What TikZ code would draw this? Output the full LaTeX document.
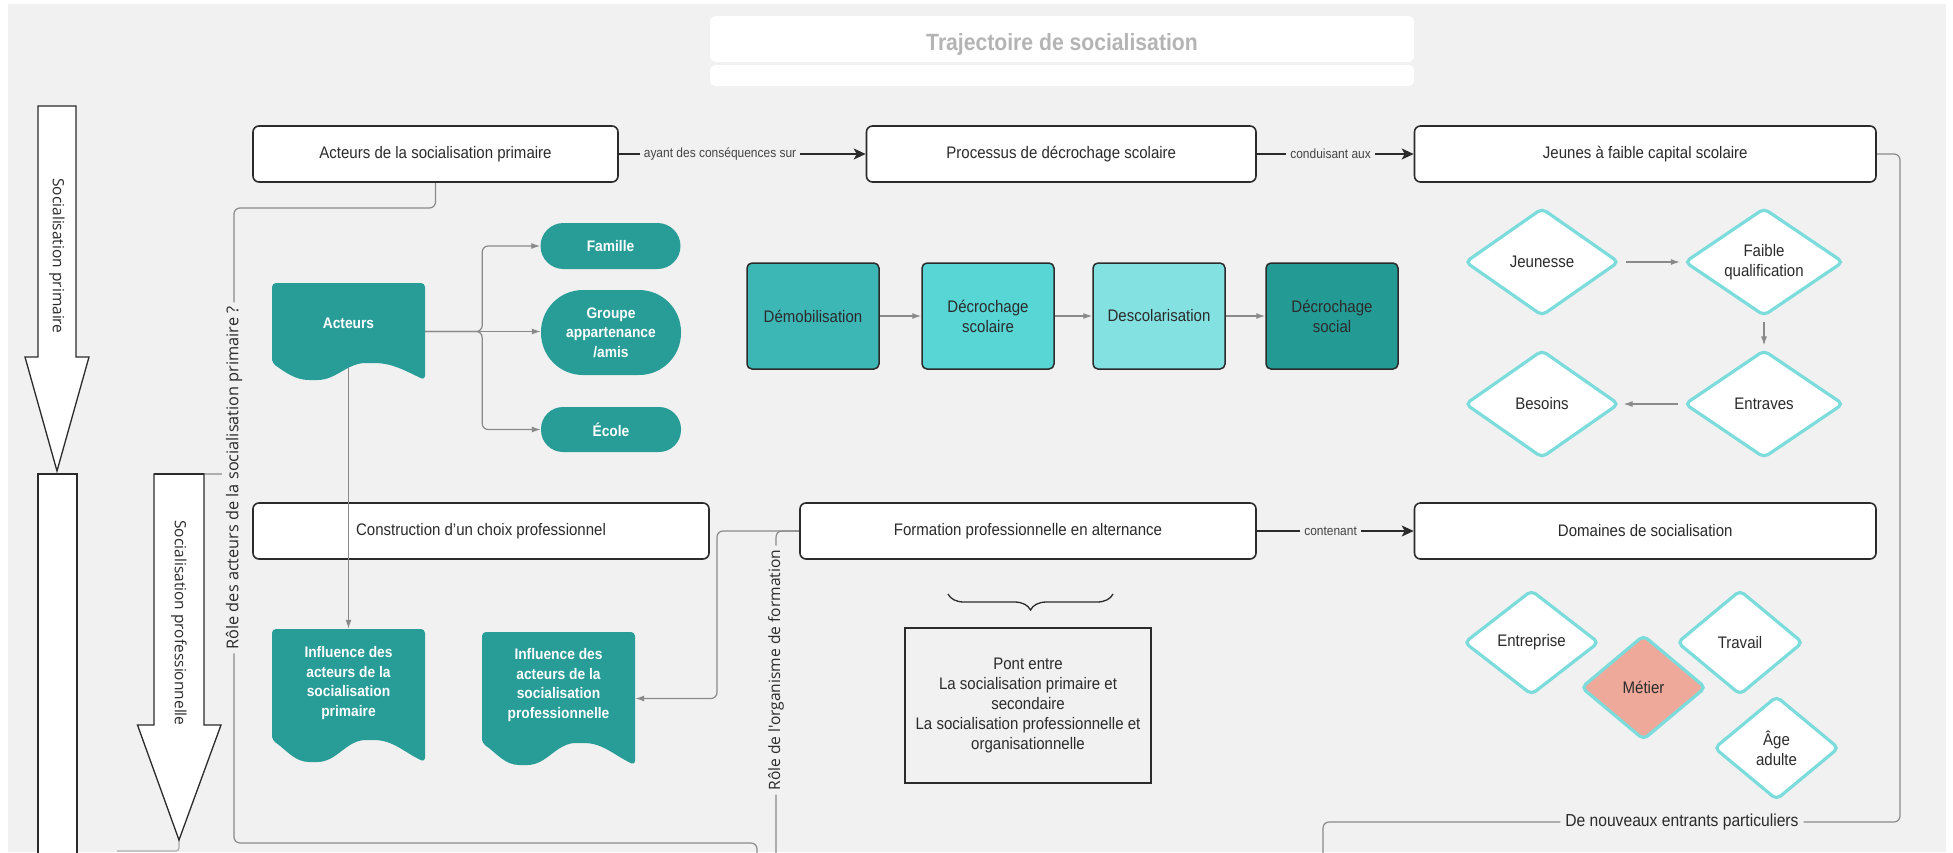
\documentclass[tikz,border=0pt]{standalone}
\usepackage{fontspec}
\setmainfont[FakeStretch=0.9]{Liberation Sans}
\newfontfamily\vfont{Open Sans}
\usetikzlibrary{arrows.meta,shapes.geometric,decorations.pathreplacing,backgrounds,calc}
\definecolor{bgc}{HTML}{F1F1F1}
\definecolor{tealA}{HTML}{289D98}
\definecolor{dk}{HTML}{2B2B2B}
\definecolor{gr}{HTML}{8A8A8A}
\definecolor{pA}{HTML}{3DB6B6}
\definecolor{pB}{HTML}{58D5D5}
\definecolor{pC}{HTML}{83E1E1}
\definecolor{pD}{HTML}{249A95}
\definecolor{cy}{HTML}{7CDCDC}
\definecolor{salm}{HTML}{EFA99A}
\definecolor{ttl}{HTML}{B4B4B4}
\definecolor{lblc}{HTML}{444444}
\newcommand\fbx{\fontsize{16.7pt}{20pt}\selectfont}
\newcommand\ftb{\fontsize{15.3pt}{19.4pt}\selectfont\bfseries}
\newcommand\flb{\fontsize{13.3pt}{16pt}\selectfont}
\newcommand\fvl{\vfont\fontsize{15.5pt}{18pt}\selectfont}
\newcommand\docfill[5]{%
  \pgfmathsetmacro\dxa{#1+0.64*(#3-#1)}%
  \pgfmathsetmacro\dxb{#1+0.27*(#3-#1)}%
  \pgfmathsetmacro\dyc{#4-#5}%
  \fill[tealA, rounded corners=4pt] (#1,\dyc) -- (#1,#2) -- (#3,#2) -- (#3,#4) to[out=155,in=0] (\dxa,\dyc) to[out=180,in=0] (\dxb,#4) to[out=180,in=-35] (#1,\dyc) -- cycle;}
\begin{document}
\begin{tikzpicture}[x=1pt,y=-1pt,
  wbox/.style={draw=dk, line width=1.6pt, fill=white, rounded corners=6pt, minimum height=56, inner sep=0pt, font=\fbx, text=dk},
  procbox/.style={draw=dk, line width=1.5pt, rounded corners=5pt, minimum width=132, minimum height=106, inner sep=0pt, font=\fbx, align=center, text=dk},
  pill/.style={fill=tealA, text=white, font=\ftb, align=center, inner sep=0pt, minimum width=140},
  doctext/.style={text=white, font=\ftb, align=center, inner sep=0pt},
  dia/.style={diamond, draw=cy, line width=3.2pt, fill=white, rounded corners=5pt, inner sep=0pt, font=\fbx, align=center, text=dk},
  gline/.style={draw=gr, line width=1.2pt, rounded corners=6pt},
  garrow/.style={gline, -{Latex[length=9pt,width=6pt]}},
  darr/.style={draw=dk, line width=1.8pt, -{Stealth[length=12pt,width=11pt,inset=3pt]}},
  lbl/.style={fill=bgc, font=\flb, text=lblc, inner sep=4pt},
  vlab/.style={fill=bgc, text=dk, rotate=90, inner sep=4pt},
  bigarrow/.style={draw=dk, line width=1.3pt, fill=white}]
\useasboundingbox (0,0) rectangle (1953,852);
\begin{scope}[on background layer]
\fill[white] (0,0) rectangle (1953,852);
\fill[bgc] (8,4) rectangle (1946,852);
\end{scope}

% title
\node[fill=white, rounded corners=6pt, minimum width=704, minimum height=46, inner sep=0pt] (title) at (1062,39) {};
\node[inner sep=0pt, font=\fontsize{23.5pt}{26pt}\selectfont\bfseries, text=ttl] (titleT) at (1062,44) {Trajectoire de socialisation};
\node[fill=white, rounded corners=5pt, minimum width=704, minimum height=21, inner sep=0pt] (subt) at (1062,75.5) {};

% big arrows
\draw[bigarrow] (38,106) -- (76,106) -- (76,357) -- (89,357) -- (57,471) -- (25,357) -- (38,357) -- cycle;
\node[rotate=-90, font=\fvl, text=dk] (sp) at (57,256) {Socialisation primaire};
\draw[bigarrow] (38,853) -- (38,474) -- (77,474) -- (77,853);
\draw[bigarrow] (154,474) -- (204,474) -- (204,725) -- (221,725) -- (179,840) -- (137.5,725) -- (154,725) -- cycle;
\draw[dk, line width=2.4pt] (154,474) -- (204,474);
\node[rotate=-90, font=\fvl, text=dk] (spro) at (179,623) {Socialisation professionnelle};

% main boxes
\node[wbox, minimum width=365] (b1) at (435.5,154) {Acteurs de la socialisation primaire};
\node[wbox, minimum width=389.5] (b2) at (1061.25,154) {Processus de d\'ecrochage scolaire};
\node[wbox, minimum width=461.5] (b3) at (1645.25,154) {Jeunes \`a faible capital scolaire};
\node[wbox, minimum width=456] (b4) at (481,531) {Construction d'un choix professionnel};
\node[wbox, minimum width=456] (b5) at (1028,531) {Formation professionnelle en alternance};
\node[wbox, minimum width=461.5] (b6) at (1645.25,531) {Domaines de socialisation};

% documents (the acteurs -> influence connector passes over the construction box)
\node[minimum width=153, minimum height=97, inner sep=0pt] (act) at (348.5,331.5) {};
\node[minimum width=153, minimum height=133, inner sep=0pt] (infp) at (348.5,695.5) {};
\draw[garrow] (act.center) -- (infp.north);
\docfill{272}{283}{425}{380}{17}
\node[doctext] (actT) at (348.5,323) {Acteurs};
\docfill{272}{629}{425}{762}{22}
\node[doctext] (infpT) at (348.5,683) {Influence des\\acteurs de la\\socialisation\\primaire};
\docfill{482}{632}{635}{765}{22}
\node[minimum width=153, minimum height=133, inner sep=0pt] (infr) at (558.5,698.5) {};
\node[doctext] (infrT) at (558.5,685) {Influence des\\acteurs de la\\socialisation\\professionnelle};

% pills
\node[pill, rounded corners=23pt, minimum height=46] (fam) at (610.5,246) {Famille};
\node[pill, rounded corners=42pt, minimum height=85] (grp) at (611,332.5) {Groupe\\appartenance\\/amis};
\node[pill, rounded corners=22pt, minimum height=45] (eco) at (611,429.5) {\'Ecole};

% process
\node[procbox, fill=pA] (p1) at (813,316) {D\'emobilisation};
\node[procbox, fill=pB] (p2) at (988,316) {D\'ecrochage\\scolaire};
\node[procbox, fill=pC] (p3) at (1159,316) {Descolarisation};
\node[procbox, fill=pD] (p4) at (1332,316) {D\'ecrochage\\social};

% diamonds top
\node[dia, minimum width=154, minimum height=108, aspect=1.43] (d1) at (1542,262) {Jeunesse};
\node[dia, minimum width=159, minimum height=108, aspect=1.47] (d2) at (1764,262) {Faible\\qualification};
\node[dia, minimum width=159, minimum height=108, aspect=1.47] (d3) at (1764,404) {Entraves};
\node[dia, minimum width=154, minimum height=108, aspect=1.43] (d4) at (1542,404) {Besoins};

% diamonds bottom
\node[dia, minimum width=135, minimum height=105, aspect=1.29] (e1) at (1531.5,642.5) {Entreprise};
\node[dia, minimum width=126, minimum height=105, aspect=1.2] (e2) at (1740,642.5) {Travail};
\node[dia, fill=salm, minimum width=125, minimum height=105, aspect=1.19] (e3) at (1643.5,687.5) {M\'etier};
\node[dia, minimum width=125, minimum height=104, aspect=1.2] (e4) at (1776.5,748) {\^Age\\adulte};

% pont
\node[draw=dk, line width=1.5pt, minimum width=246, minimum height=155, inner sep=0pt, font=\fbx, align=center, text=dk] (pont) at (1028,705.5) {Pont entre\\La socialisation primaire et\\secondaire\\La socialisation professionnelle et\\organisationnelle};
\coordinate (brR) at (1113,594);
\coordinate (brL) at (948,594);
\draw[dk, line width=1.3pt, decorate, decoration={brace, amplitude=16pt}] (brR) -- (brL);

% connectors
\coordinate (endA) at (757,853);
\coordinate (endB) at (776,853);
\coordinate (endC) at (1323,853);
\begin{scope}[on background layer]
\draw[darr] (b1.east) -- node[lbl, pos=0.41] {ayant des cons\'equences sur} (b2.west);
\draw[darr] (b2.east) -- node[lbl, pos=0.47] {conduisant aux} (b3.west);
\draw[darr] (b5.east) -- node[lbl, pos=0.47] {contenant} (b6.west);

\draw[gline] (b1.south) |- (234,208) -- node[vlab, font=\vfont\fontsize{16.3pt}{18pt}\selectfont, pos=0.425] {R\^ole des acteurs de la socialisation primaire ?} (234,843) -| (endA);
\draw[gline] (b5.west) -- (776,531) -- node[vlab, font=\vfont\fontsize{15.6pt}{18pt}\selectfont, pos=0.432] {R\^ole de l'organisme de formation} (endB);
\draw[garrow] (b5.west) -| (717,698.5) -- (infr.east);
\draw[gline] (b3.east) -| (1900,822) -- node[fill=bgc, font=\fontsize{17.4pt}{20pt}\selectfont, text=dk, inner sep=5pt, pos=0.378] {De nouveaux entrants particuliers} (1323,822) -- (endC);

\draw[garrow] (act.east) -- ++(57,0) |- (fam.west);
\draw[garrow] (act.east) -- (act.east -| grp.west);
\draw[garrow] (act.east) -- ++(57,0) |- (eco.west);

\draw[garrow] (p1) -- (p2);
\draw[garrow] (p2) -- (p3);
\draw[garrow] (p3) -- (p4);

\draw[garrow, shorten <=5pt, shorten >=3pt] (d1) -- (d2);
\draw[garrow, shorten <=4pt, shorten >=3pt] (d2) -- (d3);
\draw[garrow, shorten <=5pt, shorten >=3pt] (d3) -- (d4);

\draw[draw=gr!70, line width=1.2pt] (204,474) -- (222,474);
\draw[draw=gr!70, line width=1.2pt, rounded corners=3pt] (179,840) |- (117,851);
\end{scope}
\end{tikzpicture}
\end{document}
